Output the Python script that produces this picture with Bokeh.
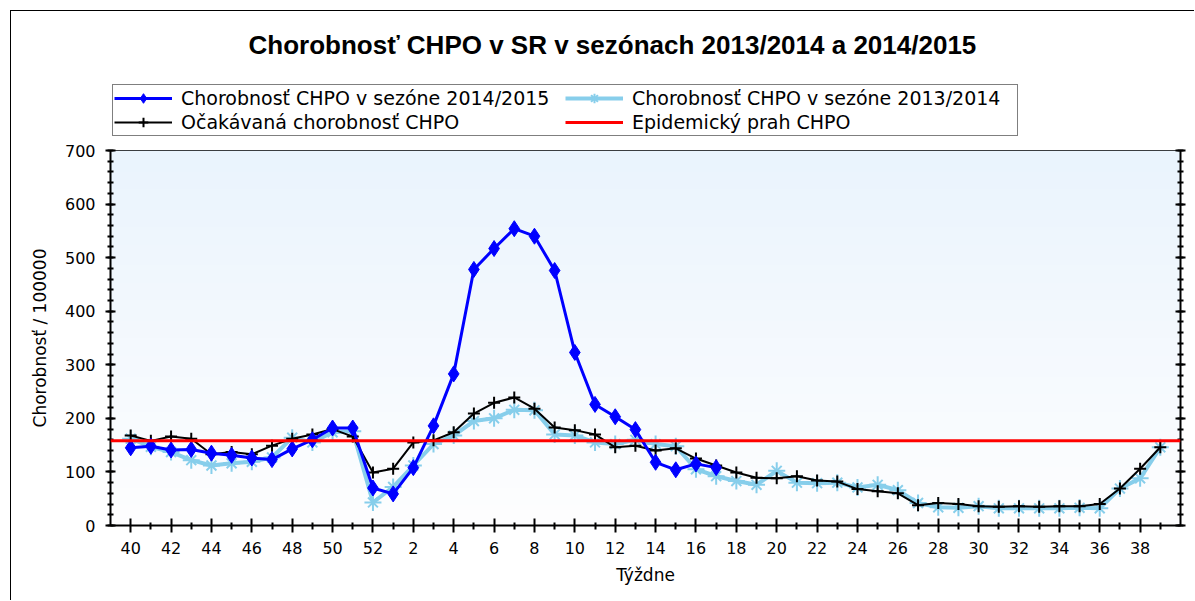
import numpy as np
from bokeh.plotting import figure
from bokeh.layouts import column
from bokeh.models import (FixedTicker, LinearAxis, Legend, LegendItem, Span,
                          ColumnDataSource, Range1d)
from bokeh.embed import file_html
from bokeh.resources import INLINE

# ---------------- data ----------------
weeks = [40, 41, 42, 43, 44, 45, 46, 47, 48, 49, 50, 51, 52,
         1, 2, 3, 4, 5, 6, 7, 8, 9, 10, 11, 12, 13, 14, 15, 16, 17, 18, 19, 20,
         21, 22, 23, 24, 25, 26, 27, 28, 29, 30, 31, 32, 33, 34, 35, 36, 37, 38, 39]

season_2014_2015 = [145, 148, 141, 142, 135, 131, 126, 123, 143, 160, 182, 182, 70,
                    59, 108, 186, 283, 478, 517, 554, 540, 476, 323, 226, 203, 179,
                    118, 104, 115, 108]

season_2013_2014 = [162, 147, 137, 122, 112, 116, 119, 127, 164, 155, 174, 176, 43,
                    72, 112, 152, 168, 195, 200, 216, 215, 170, 168, 155, 152, 160,
                    152, 148, 105, 92, 83, 76, 102, 80, 79, 80, 71, 76, 66, 42, 34,
                    33, 36, 32, 32, 32, 32, 33, 32, 69, 88, 146]

expected = [168, 158, 166, 162, 133, 137, 133, 149, 162, 170, 180, 166, 99,
            106, 155, 159, 174, 209, 229, 239, 218, 183, 178, 170, 146, 149,
            140, 144, 125, 112, 99, 89, 88, 92, 84, 82, 68, 64, 60, 38, 42,
            40, 36, 35, 36, 35, 36, 36, 40, 69, 106, 146]

threshold = 158

title_text = "Chorobnosť CHPO v SR v sezónach 2013/2014 a 2014/2015"
labels = ["Chorobnosť CHPO v sezóne 2014/2015",
          "Chorobnosť CHPO v sezóne 2013/2014",
          "Očakávaná chorobnosť CHPO",
          "Epidemický prah CHPO"]
x_label = "Týždne"
y_label = "Chorobnosť / 100000"

# ---------------- styles ----------------
font = "DejaVu Sans"
c14 = "#0000ff"
c13 = "#87ceeb"
cexp = "#000000"
cthr = "#ff0000"
W = 1183

n = len(weeks)
idx = list(range(n))
src13 = ColumnDataSource(dict(x=idx, y=season_2013_2014))
src_exp = ColumnDataSource(dict(x=idx, y=expected))
src14 = ColumnDataSource(dict(x=idx[:len(season_2014_2015)], y=season_2014_2015))
src_thr = ColumnDataSource(dict(x=idx, y=[threshold] * n))


def draw_series(fig):
    r13 = [fig.line("x", "y", source=src13, line_color=c13, line_width=4),
           fig.scatter("x", "y", source=src13, marker="cross", size=17, line_color=c13, line_width=2),
           fig.scatter("x", "y", source=src13, marker="x", size=14, line_color=c13, line_width=2)]
    rexp = [fig.line("x", "y", source=src_exp, line_color=cexp, line_width=2),
            fig.scatter("x", "y", source=src_exp, marker="cross", size=12, line_color=cexp, line_width=2)]
    r14 = [fig.line("x", "y", source=src14, line_color=c14, line_width=3),
           fig.scatter("x", "y", source=src14, marker="diamond", size=16, fill_color=c14, line_color=c14)]
    return r13, rexp, r14


# ---------------- header: title + legend ----------------
# (its ranges lie outside the data, so its renderers only feed the legend)
head = figure(width=W, height=129, output_backend="svg", toolbar_location=None,
              x_range=Range1d(1000, 1001), y_range=Range1d(1000, 1001),
              x_axis_location=None, y_axis_location=None,
              min_border_bottom=0,
              background_fill_color="white", border_fill_color="white")
head.xgrid.visible = False
head.ygrid.visible = False
head.outline_line_color = None
head.title.text = title_text
head.title.text_font = "Liberation Sans"
head.title.text_font_size = "26px"
head.title.text_font_style = "bold"
head.title.text_color = "black"
head.title.align = "left"
head.title.offset = 138
head.title.standoff = 32

h13, hexp, h14 = draw_series(head)
hthr = head.line("x", "y", source=src_thr, line_color=cthr, line_width=3)

legend = Legend(items=[
    LegendItem(label=labels[0], renderers=h14),
    LegendItem(label=labels[1], renderers=h13),
    LegendItem(label=labels[2], renderers=hexp),
    LegendItem(label=labels[3], renderers=[hthr]),
], location=(2, 4), orientation="horizontal", ncols=2)
legend.label_text_font = font
legend.label_text_font_size = "19px"
legend.label_text_color = "black"
legend.glyph_width = 58
legend.glyph_height = 24
legend.label_height = 24
legend.label_width = 384
legend.label_standoff = 9
legend.spacing = 0
legend.padding = 1
legend.margin = 0
legend.border_line_color = "black"
legend.border_line_width = 1
legend.background_fill_color = "white"
legend.background_fill_alpha = 1
head.add_layout(legend, "center")

# ---------------- main chart ----------------
p = figure(width=W, height=460, output_backend="svg", toolbar_location=None,
           x_range=Range1d(-1, n), y_range=Range1d(0, 700),
           min_border_left=99, min_border_right=14,
           min_border_top=10, min_border_bottom=75,
           background_fill_color="white", border_fill_color="white")
p.xgrid.visible = False
p.ygrid.visible = False
p.outline_line_color = "black"
p.outline_line_width = 1

# background gradient (decoration)
rows = 128
t = np.linspace(0, 1, rows)
top = np.array([234, 244, 253])
bot = np.array([254, 254, 255])
img = np.zeros((rows, 1), dtype=np.uint32)
view = img.view(dtype=np.uint8).reshape((rows, 1, 4))
for i in range(rows):
    c = bot + (top - bot) * t[i]
    view[i, 0, 0] = int(c[0]); view[i, 0, 1] = int(c[1]); view[i, 0, 2] = int(c[2]); view[i, 0, 3] = 255
p.image_rgba(image=[img], x=p.x_range.start, y=p.y_range.start,
             dw=p.x_range.end - p.x_range.start, dh=p.y_range.end - p.y_range.start)

p.add_layout(Span(location=threshold, dimension="width", line_color=cthr, line_width=3))
draw_series(p)

# axes
p.xaxis.ticker = FixedTicker(ticks=[i for i in idx if i % 2 == 0],
                             minor_ticks=[i for i in idx if i % 2 == 1])
p.xaxis.major_label_overrides = {i: str(weeks[i]) for i in idx}
p.xaxis.axis_label = x_label
y_major = list(range(0, 701, 100))
y_minor = list(range(0, 701, 20))
p.yaxis.ticker = FixedTicker(ticks=y_major, minor_ticks=y_minor)
p.yaxis.axis_label = y_label

for ax in (p.xaxis[0], p.yaxis[0]):
    ax.axis_line_color = "black"
    ax.axis_line_width = 2
    ax.major_tick_line_color = "black"
    ax.major_tick_line_width = 2
    ax.minor_tick_line_color = "black"
    ax.minor_tick_line_width = 2
    ax.major_label_text_font = font
    ax.major_label_text_font_size = "16px"
    ax.major_label_text_color = "black"
    ax.axis_label_text_font = font
    ax.axis_label_text_font_size = "17px"
    ax.axis_label_text_font_style = "normal"
    ax.axis_label_text_color = "black"

p.xaxis.major_tick_in = 7
p.xaxis.major_tick_out = 7
p.xaxis.minor_tick_in = 3
p.xaxis.minor_tick_out = 4
p.xaxis.major_label_standoff = 9
p.xaxis.axis_label_standoff = 8

p.yaxis.major_tick_in = 5
p.yaxis.major_tick_out = 5
p.yaxis.minor_tick_in = 3
p.yaxis.minor_tick_out = 3
p.yaxis.major_label_standoff = 10
p.yaxis.axis_label_standoff = 12

ry = LinearAxis(ticker=FixedTicker(ticks=y_major, minor_ticks=y_minor))
ry.axis_line_color = "black"
ry.axis_line_width = 2
ry.major_tick_line_width = 2
ry.minor_tick_line_width = 2
ry.major_tick_in = 5
ry.major_tick_out = 5
ry.minor_tick_in = 3
ry.minor_tick_out = 3
ry.major_label_overrides = {v: "" for v in y_major}
ry.major_label_standoff = 0
p.add_layout(ry, "right")

lay = column(head, p, spacing=0)
lay.styles = {"margin-left": "10px", "margin-top": "10px",
              "border-top": "1px solid #000000", "border-left": "1px solid #000000"}

open("out.html", "w").write(file_html(lay, INLINE))
